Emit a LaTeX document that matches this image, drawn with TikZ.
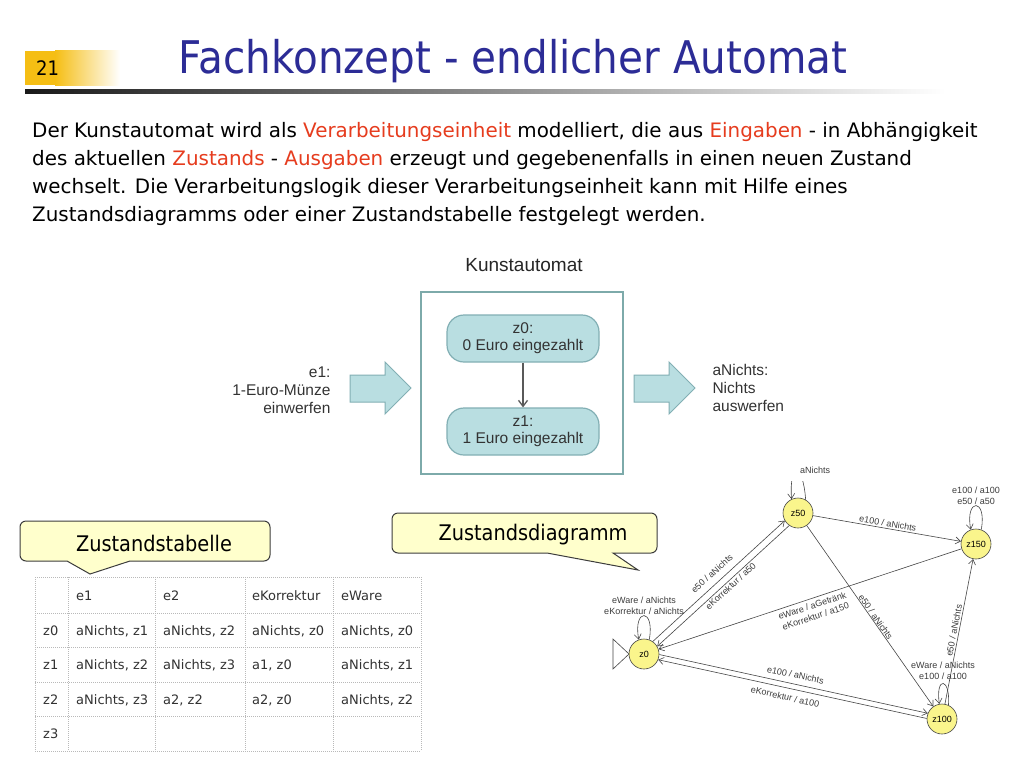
\documentclass[tikz,border=0pt]{standalone}
\usepackage{fontspec}
\setmainfont{DejaVu Sans}[FakeStretch=0.9]
\newfontfamily\arialf{Liberation Sans}
\newfontfamily\tabf{DejaVu Sans}
\usetikzlibrary{arrows.meta}
\definecolor{titleblue}{RGB}{44,44,150}
\definecolor{accent}{RGB}{230,60,30}
\definecolor{gold}{RGB}{245,190,20}
\definecolor{boxline}{RGB}{125,170,170}
\definecolor{nodefill}{RGB}{185,222,225}
\definecolor{nodeline}{RGB}{130,175,180}
\definecolor{callfill}{RGB}{255,255,204}
\definecolor{callline}{RGB}{60,60,60}
\definecolor{statefill}{RGB}{250,245,140}
\definecolor{edgecol}{RGB}{70,70,70}
\definecolor{lblcol}{RGB}{60,60,60}
\definecolor{tgrid}{RGB}{185,185,185}
\definecolor{ttext}{RGB}{50,50,50}
\begin{document}
\begin{tikzpicture}[x=1pt,y=-1pt,
  para/.style={anchor=base west, inner sep=0pt, font=\tabf\fontsize{19.9}{27}\selectfont},
  statenode/.style={circle, draw=edgecol, line width=0.6pt, fill=statefill, minimum size=30pt, inner sep=0pt, font=\arialf\fontsize{9}{10}\selectfont},
  tr/.style={draw=edgecol, line width=0.6pt, -{Straight Barb[length=5pt,width=7pt]}},
  rtr/.style={draw=edgecol, line width=0.6pt, {Straight Barb[length=5pt,width=7pt]}-},
  lbl/.style={font=\arialf\fontsize{9}{11}\selectfont, text=lblcol, inner sep=1.5pt, align=center},
  zst/.style={rectangle, rounded corners=17pt, draw=nodeline, line width=1.2pt, fill=nodefill, minimum width=152pt, minimum height=47pt, align=center, font=\arialf\fontsize{15.5}{17}\selectfont, text=black!80},
  ktext/.style={font=\arialf\fontsize{15.5}{18}\selectfont, text=black!80},
  blockarrow/.style={draw=nodeline, line width=1pt, fill=nodefill},
  callout/.style={draw=callline, line width=1pt, fill=callfill},
  calltext/.style={font=\fontsize{21.5}{24}\selectfont, text=black},
  tgridline/.style={draw=tgrid, line width=0.6pt, dash pattern=on 1pt off 1pt},
  cell/.style={anchor=base west, inner sep=0pt, font=\tabf\fontsize{13}{15}\selectfont, text=ttext}
]
\useasboundingbox (0,0) rectangle (1024,768);
\fill[white] (0,0) rectangle (1024,768);

% header
\fill[gold] (25,51) rectangle (55,85);
\shade[left color=gold, right color=white] (55,51) rectangle (120,85);
\node[anchor=base west, inner sep=0pt, font=\fontsize{20}{22}\selectfont] (num) at (36,75) {21};
\node[anchor=base, inner sep=0pt, font=\fontsize{45}{50}\selectfont, text=titleblue] (title) at (513,73) {Fachkonzept - endlicher Automat};
\shade[left color=black!90, right color=white] (25,89) rectangle (945,93);

% paragraph
\node[para] (p1) at (32,137) {Der Kunstautomat wird als \textcolor{accent}{Verarbeitungseinheit} modelliert, die aus \textcolor{accent}{Eingaben} - in Abhängigkeit};
\node[para] (p2) at (32,165) {des aktuellen \textcolor{accent}{Zustands} - \textcolor{accent}{Ausgaben} erzeugt und gegebenenfalls in einen neuen Zustand};
\node[para] (p3) at (32,193) {wechselt. Die Verarbeitungslogik dieser Verarbeitungseinheit kann mit Hilfe eines};
\node[para] (p4) at (32,221) {Zustandsdiagramms oder einer Zustandstabelle festgelegt werden.};

% Kunstautomat
\node[font=\arialf\fontsize{19}{22}\selectfont, text=black!85] (kt) at (524,265) {Kunstautomat};
\node[draw=boxline, line width=1.6pt, minimum width=202pt, minimum height=182pt, inner sep=0pt] (kbox) at (522,383) {};
\node[zst] (kz0) at (523,338.5) {z0:\\0 Euro eingezahlt};
\node[zst] (kz1) at (523,431.5) {z1:\\1 Euro eingezahlt};
\draw[draw=black!65, line width=1.3pt, -{Straight Barb[length=6pt,width=9pt]}] (kz0) -- (kz1);
\draw[blockarrow] (350,375) -- (385,375) -- (385,362) -- (411,388) -- (385,414) -- (385,402) -- (350,402) -- cycle;
\draw[blockarrow] (634,375) -- (669,375) -- (669,362) -- (695,388) -- (669,414) -- (669,402) -- (634,402) -- cycle;
\node[ktext, align=right, anchor=east] (ein) at (334,390) {e1:\\1-Euro-Münze\\einwerfen};
\node[ktext, align=left, anchor=west] (aus) at (709,388) {aNichts:\\Nichts\\auswerfen};

% callouts
\draw[callout] (20,527) [rounded corners=6pt] -- (20,521) -- (270,521) -- (270,561) [sharp corners] -- (130,561) -- (90,574) -- (67,561) [rounded corners=6pt] -- (20,561) -- (20,527);
\node[calltext] (ctab) at (154,543) {Zustandstabelle};
\draw[callout] (392,520) [rounded corners=6pt] -- (392,513) -- (657,513) -- (657,553) [sharp corners] -- (613,553) -- (638,570) -- (547,553) [rounded corners=6pt] -- (392,553) -- (392,520);
\node[calltext] (cdia) at (533,535) {Zustandsdiagramm};

% table
\foreach \x in {35,68,155,245,333,421} \draw[tgridline] (\x,577) -- (\x,751);
\foreach \y in {577,613,647,682,716,751} \draw[tgridline] (35,\y) -- (421,\y);
\node[cell] (h1) at (76,600) {e1};
\node[cell] (h2) at (163,600) {e2};
\node[cell] (h3) at (252,600) {eKorrektur};
\node[cell] (h4) at (341,600) {eWare};
\node[cell] (r0) at (43,635) {z0};
\node[cell] (c01) at (76,635) {aNichts, z1};
\node[cell] (c02) at (163,635) {aNichts, z2};
\node[cell] (c03) at (252,635) {aNichts, z0};
\node[cell] (c04) at (341,635) {aNichts, z0};
\node[cell] (r1) at (43,669.5) {z1};
\node[cell] (c11) at (76,669.5) {aNichts, z2};
\node[cell] (c12) at (163,669.5) {aNichts, z3};
\node[cell] (c13) at (252,669.5) {a1, z0};
\node[cell] (c14) at (341,669.5) {aNichts, z1};
\node[cell] (r2) at (43,704) {z2};
\node[cell] (c21) at (76,704) {aNichts, z3};
\node[cell] (c22) at (163,704) {a2, z2};
\node[cell] (c23) at (252,704) {a2, z0};
\node[cell] (c24) at (341,704) {aNichts, z2};
\node[cell] (r3) at (43,738.5) {z3};

% state diagram
\node[statenode] (s50) at (798,513) {z50};
\node[statenode] (s150) at (976,544) {z150};
\node[statenode] (s0) at (644,654) {z0};
\node[statenode] (s100) at (942,719) {z100};
\draw[edgecol, line width=0.6pt, fill=white] (613,639) -- (629,654) -- (613,669) -- cycle;

\draw[tr] (s0.55) -- node[lbl, sloped, above=5pt, pos=0.5] (l1) {e50 / aNichts} (s50.210);
\draw[rtr] (s0.30) -- node[lbl, sloped, below, pos=0.53] (l2) {eKorrektur / a50} (s50.235);
\draw[tr] (s50) -- node[lbl, sloped, above] (l3) {e100 / aNichts} (s150);
\draw[rtr] (s0) -- node[lbl, sloped, below=2pt, pos=0.5] (l4) {eWare / aGetränk\\eKorrektur / a150} (s150);
\draw[tr] (s50) -- node[lbl, sloped, above, inner sep=0.5pt, pos=0.52] (l5) {e50 / aNichts} (s100);
\draw[tr] (s100) -- node[lbl, sloped, above, pos=0.5] (l6) {e50 / aNichts} (s150);
\draw[tr] (s0.-2) -- node[lbl, sloped, above=4pt, pos=0.5] (l7) {e100 / aNichts} (s100.158);
\draw[rtr] (s0.-22) -- node[lbl, sloped, below=4pt, pos=0.48] (l8) {eKorrektur / a100} (s100.178);

\draw[tr] (s0.70) .. controls +(6,-32) and +(-6,-32) .. (s0.110);
\draw[tr] (s150.70) .. controls +(6,-32) and +(-6,-32) .. (s150.110);
\draw[tr] (s100.65) .. controls +(2,-28) and +(-4,-28) .. (s100.100);
\begin{scope}
  \clip (700,481) rectangle (900,540);
  \draw[tr] (s50.60) .. controls (803,462) and (789,462) .. (s50.115);
\end{scope}
\node[lbl] (lz0) at (644,606) {eWare / aNichts\\eKorrektur / aNichts};
\node[lbl] (lz150) at (976,496) {e100 / a100\\e50 / a50};
\node[lbl] (lz100) at (943,671) {eWare / aNichts\\e100 / a100};
\node[lbl] (lz50) at (815,470) {aNichts};
\end{tikzpicture}
\end{document}
